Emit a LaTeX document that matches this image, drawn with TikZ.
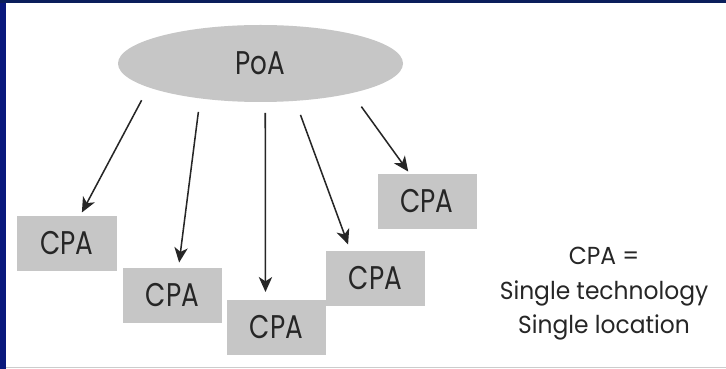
\documentclass[tikz,border=0pt]{standalone}
\usepackage{fontspec}
\setmainfont{Poppins}
\newfontfamily\boxfont[FakeStretch=0.8]{Poppins}
\newfontfamily\notefont[FakeStretch=0.95]{Poppins}
\usetikzlibrary{shapes,arrows,arrows.meta,positioning}

\definecolor{navyband}{HTML}{0B1E5B}
\definecolor{boxgray}{HTML}{C6C6C6}
\definecolor{inkgray}{HTML}{262626}

\begin{document}
\begin{tikzpicture}[x=0.3mm, y=-0.3mm,
    cpabox/.style={rectangle, fill=boxgray, minimum width=29.7mm, minimum height=16.5mm, inner sep=0pt, outer sep=0pt, text=inkgray, font=\boxfont\fontsize{28}{30}\selectfont},
    link/.style={-{Stealth[length=4.5mm, width=4mm, inset=1.3mm]}, line width=1.3pt, draw=inkgray}]
                \useasboundingbox (0,0) rectangle (726,369);
                % Frame
                \fill[white] (0,0) rectangle (726,369);
                \fill[navyband] (0,0) rectangle (726,3);
                \fill[navyband!80!blue] (0,3) rectangle (6,369);
                \draw[gray!40, line width=0.6pt] (6,367) -- (726,367);
                
                % Point of attachment
                \node[ellipse, fill=boxgray, minimum width=85.5mm, minimum height=23.1mm, inner sep=0pt, outer sep=0pt, text=inkgray, font=\boxfont\fontsize{28}{30}\selectfont] (poa) at (260.5,63.5) {PoA};
                
                % CPAs
                \node[cpabox] (cpa1) at (67,243.5) {CPA};
                \node[cpabox] (cpa2) at (172.5,295) {CPA};
                \node[cpabox] (cpa3) at (276.5,327.5) {CPA};
                \node[cpabox] (cpa4) at (375.5,278.5) {CPA};
                \node[cpabox] (cpa5) at (427,201.5) {CPA};
                
                % Arrows
                \draw[link, shorten <=4.4mm, shorten >=1.2mm] (poa.192) -- ([xshift=3.9mm]cpa1.north);
                \draw[link, shorten <=4.1mm, shorten >=1.5mm] (poa.210) -- ([xshift=1.8mm]cpa2.north);
                \draw[link, shorten <=3.3mm, shorten >=2.4mm] (poa.277) -- ([xshift=-3.3mm]cpa3.north);
                \draw[link, shorten <=4.5mm, shorten >=2.1mm] (poa.313) -- ([xshift=-7.5mm]cpa4.north);
                \draw[link, shorten <=5mm, shorten >=0.9mm] (poa.342) -- ([xshift=-5.1mm]cpa5.north);
                
                % Legend
                \node[align=center, text=inkgray, font=\notefont\fontsize{21}{29.5}\selectfont] (legend) at (604,294) {CPA =\\Single technology\\Single location};
            \end{tikzpicture}
\end{document}
